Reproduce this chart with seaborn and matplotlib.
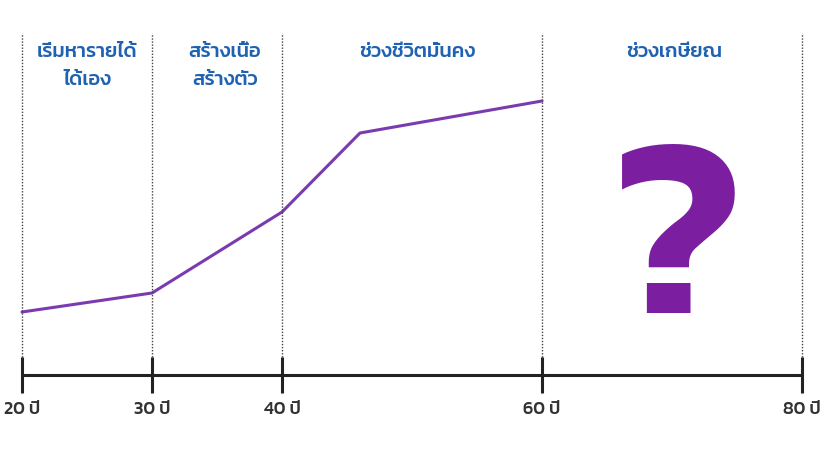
import matplotlib
matplotlib.use("Agg")
import matplotlib.pyplot as plt
import pandas as pd
import seaborn as sns

# data (y = height above the axis line, in picture units)
ages = [20, 30, 40, 46, 60]
savings = [63, 82, 163, 242, 274]
tick_ages = [20, 30, 40, 60, 80]
tick_labels = ["20 ปี", "30 ปี", "40 ปี", "60 ปี", "80 ปี"]
stage_centers = [25, 35.6, 50.4, 70.2]
stage_labels = ["เริ่มหารายได้\nได้เอง", "สร้างเนื้อ\nสร้างตัว", "ช่วงชีวิตมั่นคง", "ช่วงเกษียณ"]

sns.set_theme(style="white")
plt.rcParams["font.family"] = ["Kanit", "Prompt", "Noto Sans Thai", "DejaVu Sans"]

fig = plt.figure(figsize=(8.32, 4.62), dpi=100)
ax = fig.add_axes([0, 0, 1, 1])
ax.set_xlim(20 - 22 / 13, 20 + 810 / 13)
ax.set_ylim(-87, 375)
ax.axis("off")

df = pd.DataFrame({"age": ages, "savings": savings})
sns.lineplot(data=df, x="age", y="savings", ax=ax, color="#7a3bb0", lw=2.2)

# axis line, ticks and dotted stage boundaries
ax.plot([tick_ages[0], tick_ages[-1]], [0, 0], color="#222222", lw=2.2)
for a, lab in zip(tick_ages, tick_labels):
    ax.vlines(a, 18, 342, colors="#444444", lw=1.0, linestyles=(0, (1, 1.2)))
    ax.vlines(a, -18, 18, colors="#222222", lw=2.2)
    ax.text(a, -35, lab, ha="center", va="center", fontsize=13,
            fontweight="medium", color="#333333")

for x, lab in zip(stage_centers, stage_labels):
    ax.text(x, 332, lab, ha="center", va="top", fontsize=14.5,
            fontweight="medium", color="#2062b2", linespacing=1.7)

ax.text(70.5, 121, "?", ha="center", va="center", fontsize=186,
        fontweight="semibold", color="#7b1fa0")

fig.savefig("out.png", dpi=100)
